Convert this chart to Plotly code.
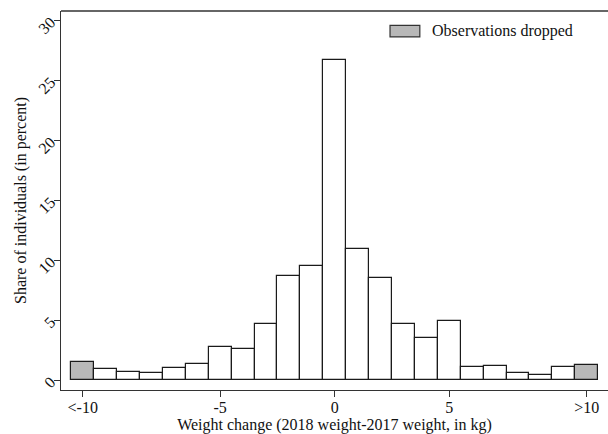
import plotly.graph_objects as go

# Data: weight change bins (kg), share of individuals (percent)
bins = list(range(-11, 12))
shares = [1.53, 0.94, 0.67, 0.61, 1.03, 1.36, 2.75, 2.61, 4.64, 8.69, 9.53,
          26.7, 10.89, 8.47, 4.64, 3.53, 4.89, 1.11, 1.17, 0.61, 0.44, 1.11, 1.22]
dropped = [b in (-11, 11) for b in bins]
xtick_vals = [-11, -5, 0, 5, 11]
xtick_text = ["<-10", "-5", "0", "5", ">10"]
ytick_vals = [0, 5, 10, 15, 20, 25, 30]
legend_label = "Observations dropped"

FONT = "Liberation Serif, Times New Roman, serif"
GRAY = "#b8b8b8"
colors = [GRAY if d else "white" for d in dropped]

fig = go.Figure()
fig.add_trace(go.Bar(
    x=bins, y=shares, width=1,
    marker=dict(color=colors, line=dict(color="#1a1a1a", width=1.2)),
    showlegend=False,
))

fig.update_layout(
    width=608, height=434,
    margin=dict(l=61, r=0, t=11, b=44),
    paper_bgcolor="white", plot_bgcolor="white",
    font=dict(family=FONT, size=16, color="#111"),
    bargap=0,
    xaxis=dict(
        range=[-11.95, 11.93],
        tickvals=xtick_vals, ticktext=xtick_text,
        ticks="outside", ticklen=6, tickwidth=1.2, tickcolor="#333",
        ticklabelstandoff=-3,
        showline=True, linecolor="#333", linewidth=1.3,
        showgrid=False, zeroline=False,
        title=dict(text="Weight change (2018 weight-2017 weight, in kg)",
                   standoff=0, font=dict(size=16)),
    ),
    yaxis=dict(
        range=[-0.83, 30.78],
        tickvals=ytick_vals,
        tickangle=-45,
        ticks="outside", ticklen=6, tickwidth=1.2, tickcolor="#333",
        showline=True, linecolor="#333", linewidth=1.3,
        showgrid=False, zeroline=False,
        title=dict(text="Share of individuals (in percent)",
                   standoff=4, font=dict(size=16)),
    ),
    shapes=[
        dict(type="line", xref="paper", yref="paper", x0=0, x1=1, y0=1, y1=1,
             line=dict(color="#333", width=1.3)),
        dict(type="rect", xref="paper", yref="paper",
             x0=0.6015, x1=0.656, y0=0.9315, y1=0.962,
             fillcolor=GRAY, line=dict(color="#333", width=1.2)),
    ],
    annotations=[
        dict(text=legend_label, xref="paper", yref="paper",
             x=0.6746, y=0.9465, xanchor="left", yanchor="middle",
             showarrow=False, font=dict(family=FONT, size=16, color="#111")),
    ],
)

fig.write_html("out.html")
